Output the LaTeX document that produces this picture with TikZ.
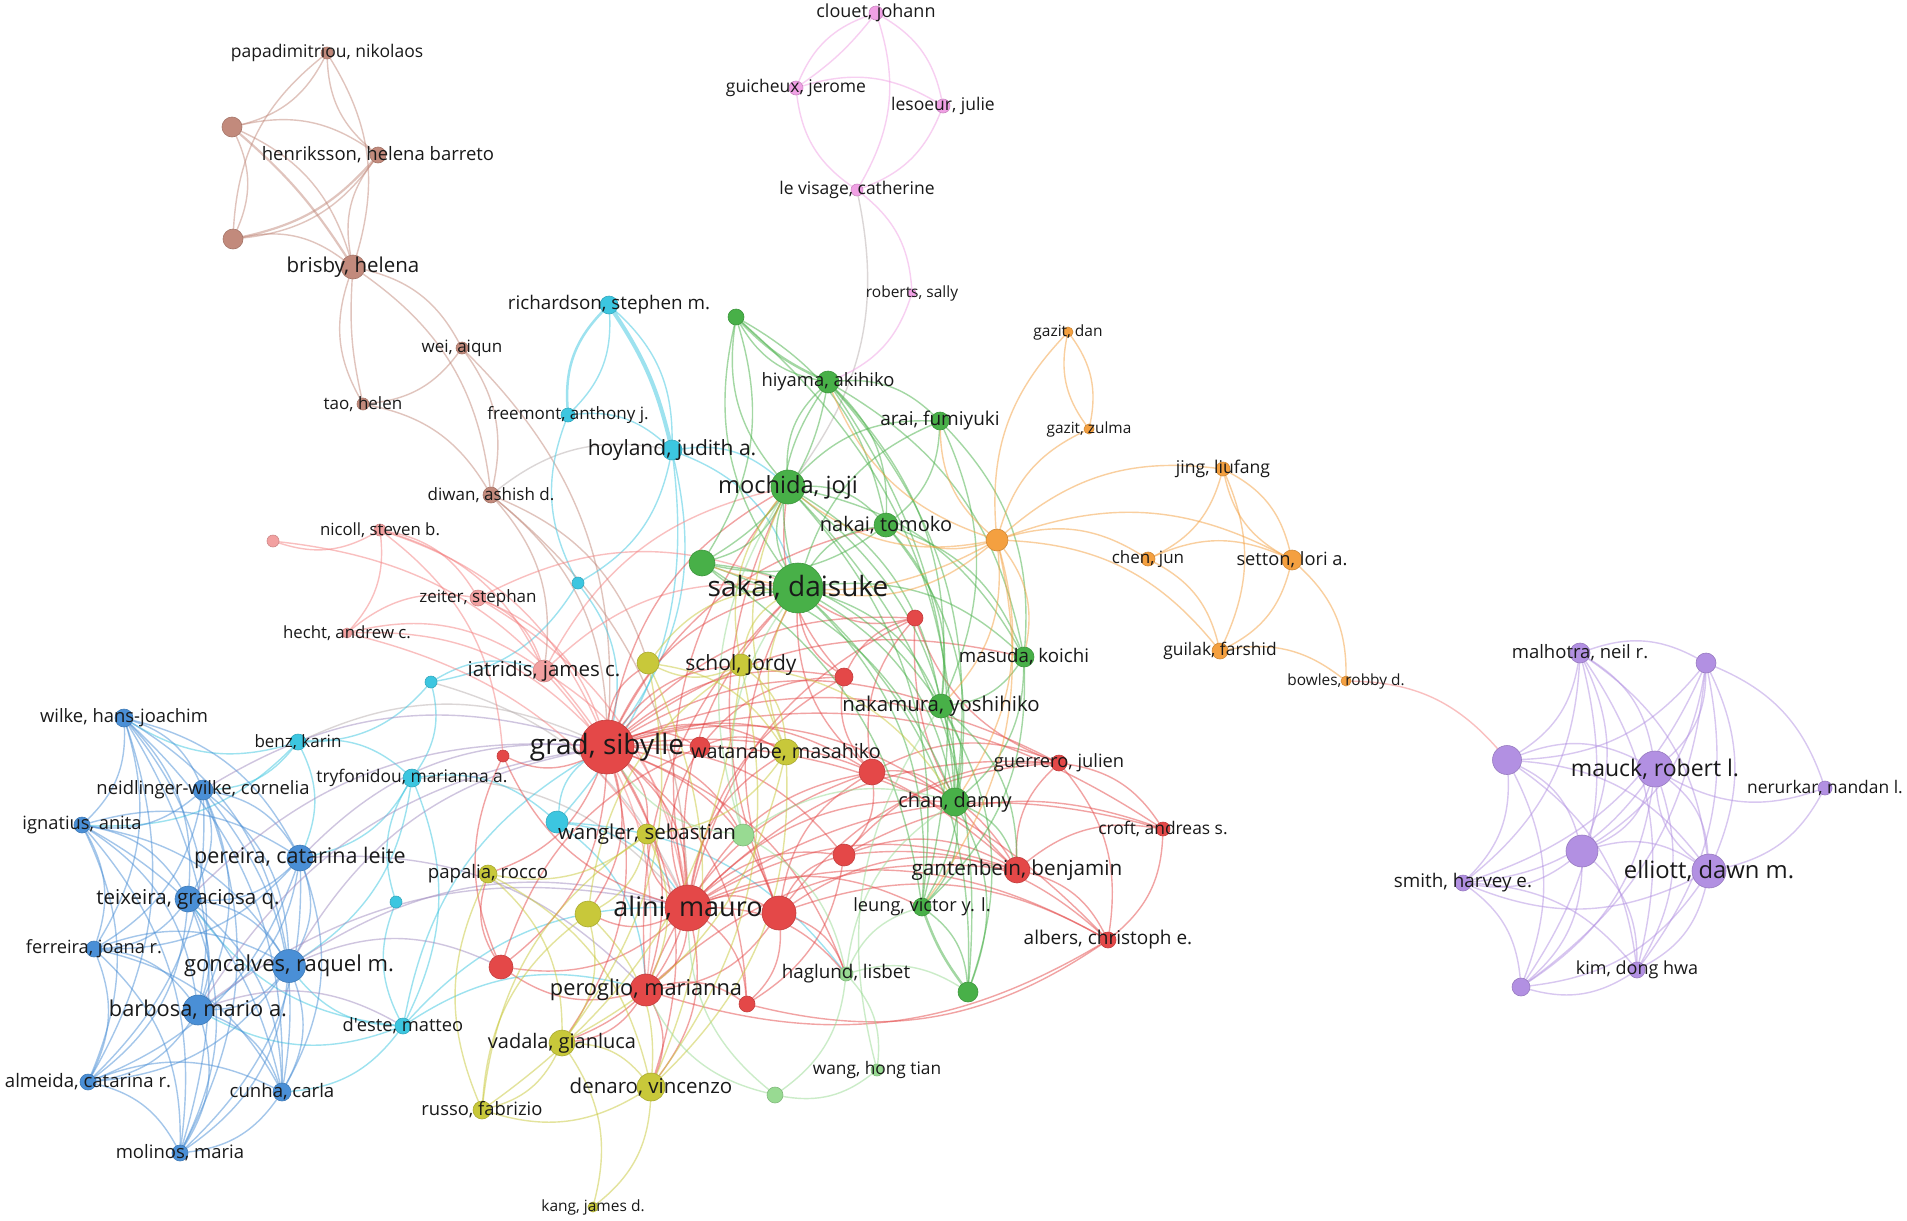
\documentclass[tikz,border=0pt]{standalone}
\usepackage{fontspec}
\setmainfont{Open Sans}[Ligatures=TeXOff]
\pgfdeclarelayer{bg}
\pgfdeclarelayer{edges}
\pgfdeclarelayer{front}
\pgfsetlayers{bg,edges,main,front}
\definecolor{cR}{HTML}{E44848}
\definecolor{cLR}{HTML}{F2A0A0}
\definecolor{cG}{HTML}{48B048}
\definecolor{cLG}{HTML}{98DA92}
\definecolor{cB}{HTML}{4A8FD6}
\definecolor{cC}{HTML}{3CC6E0}
\definecolor{cY}{HTML}{C8C83A}
\definecolor{cO}{HTML}{F4A040}
\definecolor{cP}{HTML}{B290E2}
\definecolor{cBr}{HTML}{C28A7C}
\definecolor{cPk}{HTML}{F0A0E4}
\definecolor{cGy}{HTML}{B8AFAF}
\definecolor{cBP}{HTML}{A08CC0}
\newcommand\VNode[7]{%
  \node[vn,fill=#4,draw=#4!85!black,minimum size=#5*2pt] (#1) at (#2,#3) {};
  \begin{pgfonlayer}{front}
  \node[lab,font=\fontsize{#6}{#6}\selectfont] (#1-l) at (#2,#3) {#7};
  \end{pgfonlayer}}
\newcommand\VDot[5]{%
  \node[vn,fill=#4,draw=#4!85!black,minimum size=#5*2pt] (#1) at (#2,#3) {};}
\begin{document}
\begin{tikzpicture}[x=1pt,y=-1pt,
  vn/.style={circle,inner sep=0pt,outer sep=0pt,line width=0.6pt},
  lab/.style={inner sep=0pt,text=black!90},
  ed/.style={line width=1.4pt,draw opacity=0.5,bend left=24},
  eR/.style={ed,draw=cR}, eLR/.style={ed,draw=cLR!80!red},
  eG/.style={ed,draw=cG}, eLG/.style={ed,draw=cLG},
  eB/.style={ed,draw=cB}, eC/.style={ed,draw=cC},
  eY/.style={ed,draw=cY}, eO/.style={ed,draw=cO},
  eP/.style={ed,draw=cP}, eBr/.style={ed,draw=cBr},
  ePk/.style={ed,draw=cPk}, eGy/.style={ed,draw=cGy},
  eBP/.style={ed,draw=cBP}]
\begin{pgfonlayer}{bg}
\path[use as bounding box,fill=white] (0,0) rectangle (1907,1221);
\end{pgfonlayer}
% ---------------- brown
\VNode{pap}{327}{53}{cBr}{6}{17.5}{papadimitriou, nikolaos}
\VDot{bA}{232}{127}{cBr}{10}
\VNode{hen}{378}{155}{cBr}{8}{18.5}{henriksson, helena barreto}
\VDot{bB}{233}{239}{cBr}{10}
\VNode{bris}{353}{267}{cBr}{12}{20.5}{brisby, helena}
\VNode{wei}{462}{348}{cBr}{6}{17}{wei, aiqun}
\VNode{tao}{363}{404}{cBr}{6}{17}{tao, helen}
\VNode{diwan}{491}{495}{cBr}{8}{17}{diwan, ashish d.}
% ---------------- pink
\VNode{clouet}{876}{13}{cPk}{7}{18}{clouet, johann}
\VNode{guich}{796}{88}{cPk}{7}{17.5}{guicheux, jerome}
\VNode{lesoeur}{943}{106}{cPk}{7}{17.5}{lesoeur, julie}
\VNode{levis}{857}{190}{cPk}{6}{17.5}{le visage, catherine}
\VNode{roberts}{912}{293}{cPk}{4}{15.5}{roberts, sally}
% ---------------- cyan
\VNode{rich}{609}{305}{cC}{9}{18.8}{richardson, stephen m.}
\VNode{free}{568}{415}{cC}{7}{17}{freemont, anthony j.}
\VNode{hoy}{672}{450}{cC}{10}{21}{hoyland, judith a.}
\VDot{nCa}{578}{583}{cC}{6}
\VDot{nCb}{431}{682}{cC}{6}
\VNode{benz}{298}{742}{cC}{8}{17}{benz, karin}
\VNode{tryf}{412}{778}{cC}{9}{17.4}{tryfonidou, marianna a.}
\VDot{nCc}{557}{822}{cC}{11}
\VDot{nCd}{396}{902}{cC}{6}
\VNode{deste}{403}{1026}{cC}{8}{18.3}{d'este, matteo}
% ---------------- blue
\VNode{wilke}{124}{718}{cB}{9}{18.4}{wilke, hans-joachim}
\VNode{neid}{203}{790}{cB}{10}{18.4}{neidlinger-wilke, cornelia}
\VNode{ignat}{82}{825}{cB}{8}{18.3}{ignatius, anita}
\VNode{pere}{300}{858}{cB}{13}{21.5}{pereira, catarina leite}
\VNode{teix}{188}{899}{cB}{13}{20.5}{teixeira, graciosa q.}
\VNode{ferr}{94}{949}{cB}{8}{18.2}{ferreira, joana r.}
\VNode{gonc}{289}{966}{cB}{16.5}{22}{goncalves, raquel m.}
\VNode{barb}{198}{1010}{cB}{15}{21.8}{barbosa, mario a.}
\VNode{alme}{88}{1082}{cB}{8}{18.6}{almeida, catarina r.}
\VNode{cunha}{282}{1092}{cB}{9}{18.6}{cunha, carla}
\VNode{molin}{180}{1153}{cB}{8}{18.5}{molinos, maria}
% ---------------- light red
\VNode{nicoll}{380}{530}{cLR}{6}{16.8}{nicoll, steven b.}
\VDot{lrA}{273}{541}{cLR}{6}
\VNode{hecht}{347}{633}{cLR}{5}{16.8}{hecht, andrew c.}
\VNode{zeit}{478}{598}{cLR}{8}{17}{zeiter, stephan}
\VNode{iatr}{544}{671}{cLR}{11}{20.5}{iatridis, james c.}
% ---------------- green
\VDot{gA}{736}{317}{cG}{8}
\VNode{hiya}{828}{382}{cG}{11}{18.4}{hiyama, akihiko}
\VNode{arai}{940}{421}{cG}{9}{19}{arai, fumiyuki}
\VNode{moch}{788}{487}{cG}{17}{23.6}{mochida, joji}
\VNode{nakai}{886}{525}{cG}{12}{20}{nakai, tomoko}
\VDot{gB}{702}{563}{cG}{13}
\VNode{sakai}{798}{588}{cG}{25}{28}{sakai, daisuke}
\VNode{masu}{1024}{657}{cG}{10}{18.7}{masuda, koichi}
\VNode{nakam}{941}{706}{cG}{12}{20.4}{nakamura, yoshihiko}
\VNode{chan}{955}{802}{cG}{14}{20}{chan, danny}
\VNode{leung}{922}{907}{cG}{9}{18.2}{leung, victor y. l.}
\VDot{gC}{968}{992}{cG}{10}
% ---------------- yellow
\VDot{yA}{648}{663}{cY}{11}
\VNode{schol}{741}{665}{cY}{11}{21}{schol, jordy}
\VNode{watan}{786}{752}{cY}{13}{19.8}{watanabe, masahiko}
\VNode{wangl}{647}{834}{cY}{10}{20.5}{wangler, sebastian}
\VNode{papal}{488}{874}{cY}{9}{18.6}{papalia, rocco}
\VDot{yB}{588}{914}{cY}{13}
\VNode{vadal}{562}{1043}{cY}{13}{20}{vadala, gianluca}
\VNode{denar}{651}{1087}{cY}{14}{20.5}{denaro, vincenzo}
\VNode{russo}{482}{1110}{cY}{9}{18.4}{russo, fabrizio}
\VNode{kang}{593}{1207}{cY}{5}{15.5}{kang, james d.}
% ---------------- light green
\VDot{lgA}{743}{835}{cLG}{11}
\VNode{hagl}{846}{974}{cLG}{7}{18.8}{haglund, lisbet}
\VNode{wangh}{877}{1070}{cLG}{6}{17.3}{wang, hong tian}
\VDot{lgB}{775}{1095}{cLG}{8}
% ---------------- red
\VNode{grad}{607}{747}{cR}{27}{28}{grad, sibylle}
\VDot{rA}{503}{756}{cR}{6}
\VDot{rB}{700}{747}{cR}{10}
\VDot{rC}{844}{677}{cR}{9}
\VDot{rD}{915}{618}{cR}{8}
\VDot{rE}{872}{772}{cR}{13}
\VDot{rF}{844}{855}{cR}{11}
\VDot{rG}{779}{913}{cR}{17}
\VNode{alini}{688}{908}{cR}{23}{27}{alini, mauro}
\VDot{rH}{501}{967}{cR}{12}
\VNode{perog}{646}{990}{cR}{16}{21.8}{peroglio, marianna}
\VDot{rI}{747}{1004}{cR}{8}
\VNode{guerr}{1059}{763}{cR}{8}{18.3}{guerrero, julien}
\VNode{gant}{1017}{870}{cR}{13}{20.7}{gantenbein, benjamin}
\VNode{croft}{1163}{829}{cR}{7}{17.4}{croft, andreas s.}
\VNode{albers}{1108}{940}{cR}{8}{19}{albers, christoph e.}
% ---------------- orange
\VDot{oHub}{997}{540}{cO}{11}
\VNode{gdan}{1068}{332}{cO}{5}{15.5}{gazit, dan}
\VNode{gzul}{1089}{429}{cO}{5}{15.4}{gazit, zulma}
\VNode{jing}{1223}{469}{cO}{7}{17.6}{jing, liufang}
\VNode{chen}{1148}{559}{cO}{7}{17}{chen, jun}
\VNode{setton}{1292}{560}{cO}{10}{18.3}{setton, lori a.}
\VNode{guilak}{1220}{651}{cO}{8}{17.4}{guilak, farshid}
\VNode{bowles}{1346}{681}{cO}{5}{15.4}{bowles, robby d.}
% ---------------- purple
\VNode{malh}{1580}{653}{cP}{10}{18.5}{malhotra, neil r.}
\VDot{pA}{1706}{663}{cP}{10}
\VDot{pB}{1507}{760}{cP}{14.5}
\VNode{mauck}{1655}{769}{cP}{18}{23}{mauck, robert l.}
\VNode{nerur}{1825}{788}{cP}{7}{17.4}{nerurkar, nandan l.}
\VDot{pC}{1582}{851}{cP}{16}
\VNode{elliott}{1709}{871}{cP}{17}{23.8}{elliott, dawn m.}
\VNode{smith}{1463}{883}{cP}{8}{18.8}{smith, harvey e.}
\VNode{kim}{1637}{970}{cP}{8}{18}{kim, dong hwa}
\VDot{pD}{1521}{987}{cP}{9}
% ================= edges
\begin{pgfonlayer}{edges}
\foreach \a/\b in {pap/bA,hen/pap,bB/pap,pap/bris,bA/hen,bA/bB,bA/bris,hen/bB,bB/bris,bris/hen,tao/bris,bris/wei,wei/tao,wei/diwan,tao/diwan,bris/diwan,diwan/grad,diwan/iatr,diwan/yA,diwan/alini,wei/grad}
  \draw[eBr] (\a) to (\b);
\draw[eBr,line width=2.2pt] (bA) to[bend left=8] (bris);
\draw[eBr,line width=2.2pt] (bB) to[bend right=18] (hen);
\draw[eBr] (bris) to[bend right=8] (tao);
\foreach \a/\b in {diwan/hoy,levis/moch,nCb/alini,benz/grad,tryf/alini}
  \draw[eGy] (\a) to (\b);
\foreach \a/\b in {guich/clouet,clouet/lesoeur,clouet/levis,guich/lesoeur,levis/guich,lesoeur/levis,levis/roberts,roberts/hiya}
  \draw[ePk] (\a) to (\b);
\draw[ePk] (clouet) to[bend left=8] (guich);
\foreach \a/\b in {rich/free,rich/hoy,free/hoy,hoy/nCa,hoy/grad,hoy/nCc,hoy/sakai,hoy/moch,nCa/nCb,nCa/grad,nCa/free,nCb/benz,nCb/tryf,nCb/iatr,benz/tryf,benz/neid,tryf/deste,tryf/nCc,deste/nCd,deste/gonc,deste/barb,deste/cunha,deste/grad,deste/alini,nCd/tryf,nCc/grad,nCc/alini,benz/wilke,benz/pere,tryf/pere,tryf/gonc,nCc/perog,nCc/hagl,deste/perog,deste/teix,benz/ignat}
  \draw[eC] (\a) to (\b);
\draw[eC,line width=4pt] (rich) to[bend left=10] (hoy);
\draw[eC,line width=2.5pt] (free) to (rich);
\foreach \a [count=\i] in {wilke,neid,ignat,pere,teix,ferr,gonc,barb,alme,cunha,molin}{
  \foreach \b [count=\j] in {wilke,neid,ignat,pere,teix,ferr,gonc,barb,alme,cunha,molin}{
    \ifnum\j>\i \draw[eB] (\a) to (\b); \fi}}
\foreach \a/\b in {gonc/grad,barb/alini,gonc/alini,pere/grad,barb/grad,teix/grad,neid/grad,pere/perog,gonc/rH,barb/deste}
  \draw[eBP] (\a) to (\b);
\foreach \a/\b in {nicoll/lrA,lrA/grad,nicoll/hecht,nicoll/zeit,nicoll/iatr,nicoll/rA,zeit/iatr,hecht/iatr,hecht/grad,zeit/sakai,iatr/sakai,hecht/zeit,nicoll/grad,iatr/alini,zeit/grad,hecht/alini,zeit/alini,iatr/perog,iatr/moch,bowles/pB}
  \draw[eLR] (\a) to (\b);
\foreach \a/\b in {grad/alini,grad/perog,grad/rA,grad/rB,grad/rC,grad/rD,grad/rE,grad/rF,grad/rG,grad/rH,grad/rI,grad/gant,grad/guerr,grad/albers,grad/croft,grad/sakai,grad/moch,grad/nakai,grad/watan,grad/schol,grad/wangl,grad/vadal,grad/denar,grad/papal,grad/yB,grad/lgA,grad/hagl,grad/chan,grad/nakam,grad/masu,grad/yA,alini/perog,alini/rG,alini/rE,alini/rF,alini/rH,alini/rI,alini/rB,alini/rC,alini/rD,alini/gant,alini/guerr,alini/albers,alini/croft,alini/sakai,alini/watan,alini/vadal,alini/denar,alini/yB,alini/hagl,alini/leung,alini/chan,alini/rA,alini/moch,alini/wangl,rG/perog,rG/rE,rG/rF,rG/gant,rG/guerr,rG/albers,rG/rI,rG/sakai,rG/moch,rG/hagl,perog/rH,perog/rI,perog/rE,perog/denar,perog/vadal,perog/gant,perog/sakai,rE/rF,rE/gant,rE/guerr,rE/rC,rE/rD,rE/sakai,rE/chan,rF/gant,rF/guerr,rF/albers,rF/croft,rF/rI,gant/croft,gant/albers,gant/guerr,guerr/croft,guerr/albers,croft/albers,gant/rD,guerr/rD,albers/rI,albers/perog,rC/rD,rC/sakai,rD/sakai,rC/moch,rH/rA,rH/papal,rH/rB,rB/rC,rB/watan}
  \draw[eR] (\a) to (\b);
\foreach \a/\b in {sakai/moch,sakai/hiya,sakai/arai,sakai/nakai,sakai/gB,sakai/gA,sakai/masu,sakai/nakam,sakai/chan,sakai/leung,sakai/gC,moch/hiya,moch/arai,moch/nakai,moch/gA,moch/gB,moch/masu,moch/nakam,moch/chan,moch/leung,moch/gC,hiya/arai,hiya/nakai,hiya/gA,hiya/gB,hiya/masu,hiya/nakam,hiya/chan,arai/nakai,arai/masu,arai/nakam,nakai/masu,nakai/nakam,nakai/chan,nakai/gB,gB/nakam,gB/chan,masu/nakam,masu/chan,masu/leung,nakam/chan,nakam/leung,nakam/gC,chan/leung,chan/gC,leung/gC,gA/gB,gA/nakai,gA/chan,hiya/leung,gB/leung,chan/gant,nakam/gant}
  \draw[eG] (\a) to (\b);
\draw[eG,line width=2.5pt] (gA) to[bend right=10] (hiya);
\draw[eG,line width=2.5pt] (leung) to[bend right=8] (gC);
\foreach \a/\b in {schol/watan,schol/yA,schol/sakai,schol/moch,yA/watan,yA/sakai,watan/sakai,watan/moch,watan/wangl,wangl/yB,wangl/papal,yB/vadal,yB/denar,vadal/denar,vadal/russo,denar/russo,denar/kang,vadal/kang,russo/papal,papal/vadal,russo/yB,watan/denar,schol/denar,yA/vadal,wangl/perog,schol/russo,yA/denar,yB/schol,watan/vadal,papal/denar,russo/wangl,schol/chan}
  \draw[eY] (\a) to (\b);
\foreach \a/\b in {lgA/hagl,lgA/sakai,lgA/chan,hagl/wangh,hagl/lgB,wangh/lgB,hagl/chan,hagl/leung,lgB/alini,wangh/nakam,lgA/grad,lgA/moch,lgB/perog,hagl/gC}
  \draw[eLG] (\a) to (\b);
\foreach \a/\b in {oHub/gdan,oHub/gzul,gdan/gzul,oHub/jing,oHub/chen,oHub/setton,oHub/guilak,oHub/nakai,oHub/moch,oHub/sakai,oHub/masu,oHub/nakam,oHub/chan,oHub/hiya,oHub/gB,jing/chen,jing/setton,jing/guilak,chen/setton,chen/guilak,setton/guilak,setton/bowles,guilak/bowles,oHub/arai,oHub/leung}
  \draw[eO] (\a) to (\b);
\draw[eO] (gzul) to (gdan);
\draw[eO] (setton) to (jing);
\foreach \a [count=\i] in {malh,pA,pB,mauck,pC,elliott,smith,kim,pD}{
  \foreach \b [count=\j] in {malh,pA,pB,mauck,pC,elliott,smith,kim,pD}{
    \ifnum\j>\i \draw[eP] (\a) to (\b); \fi}}
\foreach \a/\b in {nerur/mauck,nerur/elliott,pA/nerur,elliott/mauck}
  \draw[eP] (\a) to (\b);
\end{pgfonlayer}
\end{tikzpicture}
\end{document}
